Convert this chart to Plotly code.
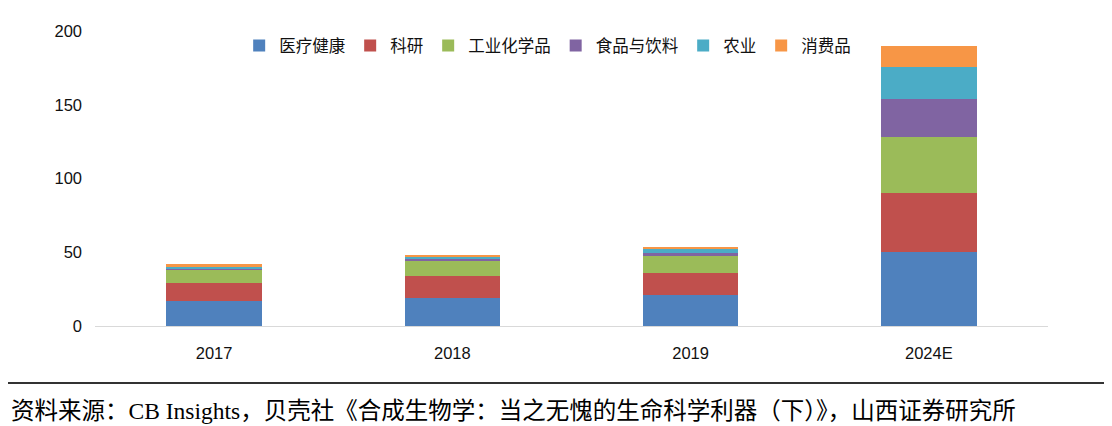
import plotly.graph_objects as go

categories = ["2017", "2018", "2019", "2024E"]
series_names = ["医疗健康", "科研", "工业化学品", "食品与饮料", "农业", "消费品"]
healthcare = [17.0, 18.8, 21.0, 50.4]
research = [12.4, 15.3, 15.2, 39.6]
industrial = [8.6, 10.2, 11.3, 37.9]
food = [1.0, 0.9, 1.8, 25.8]
agriculture = [1.3, 1.8, 2.7, 22.1]
consumer = [1.5, 1.4, 1.6, 14.0]
y_ticks = [0, 50, 100, 150, 200]
source_text = "资料来源：CB Insights，贝壳社《合成生物学：当之无愧的生命科学利器（下）》，山西证券研究所"

colors = ["#4F81BD", "#C0504D", "#9BBB59", "#8064A2", "#4BACC6", "#F79646"]
values = [healthcare, research, industrial, food, agriculture, consumer]

fig = go.Figure()
for name, vals, col in zip(series_names, values, colors):
    fig.add_trace(go.Bar(x=categories, y=vals, name=name, marker_color=col,
                         marker_line_width=0))

# plot area on screen: x 95..1048, y 31..326 (page has 8px body margin)
L, R, T, B = 87, 72, 23, 108
PW, PH = 1112 - L - R, 426 - T - B

fig.update_layout(
    barmode="stack",
    bargap=0.6,
    width=1112, height=426,
    margin=dict(l=L, r=R, t=T, b=B),
    paper_bgcolor="white", plot_bgcolor="white",
    font=dict(family="Liberation Sans, Arial, Noto Sans CJK SC", size=16, color="#222"),
    legend=dict(orientation="h", x=0.475, xanchor="center", y=0.95, yanchor="middle",
                font=dict(family="Noto Sans CJK SC", size=16.5, color="#111"),
                itemwidth=30, traceorder="normal", bgcolor="rgba(0,0,0,0)"),
    xaxis=dict(showgrid=False, showline=True, linecolor="#D9D9D9", linewidth=1,
               ticks="", tickfont=dict(size=16.5, color="#111"),
               ticklabelstandoff=12),
    yaxis=dict(range=[0, 200], tickvals=y_ticks, showgrid=False, zeroline=False,
               showline=False, ticks="", tickfont=dict(size=16.5, color="#111"),
               ticklabelstandoff=12),
    showlegend=True,
)

fig.add_shape(type="line", xref="paper", yref="paper",
              x0=-L / PW, x1=(1112 - L) / PW, y0=(318 - 375) / PH, y1=(318 - 375) / PH,
              line=dict(color="#333333", width=2))
fig.add_annotation(text=source_text, xref="paper", yref="paper",
                   x=(1 - L) / PW, y=(318 - 403) / PH, xanchor="left", yanchor="middle",
                   showarrow=False,
                   font=dict(family="Liberation Serif, Noto Sans CJK SC", size=23.5, color="#000"))

fig.write_html("out.html")
